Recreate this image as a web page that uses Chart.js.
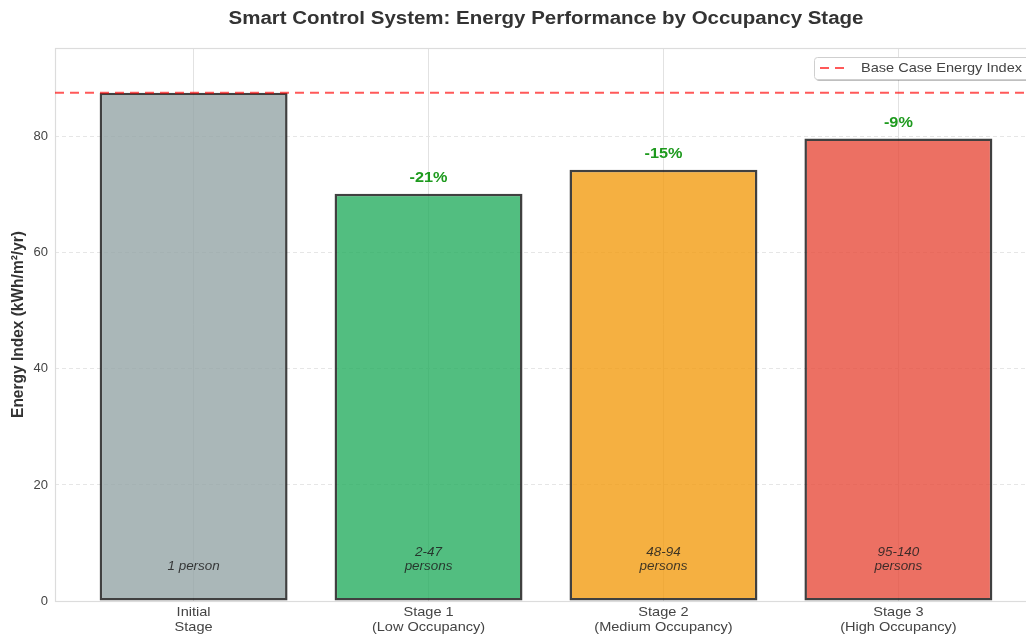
<!DOCTYPE html>
<html>
<head>
<meta charset="utf-8">
<title>Energy Performance by Occupancy Stage</title>
<script src="https://cdn.jsdelivr.net/npm/chart.js@4.4.0/dist/chart.umd.min.js"></script>
<style>
  html, body { margin: 0; padding: 0; background: #fff; overflow: hidden; }
  #wrap { width: 1026px; height: 635px; overflow: hidden; }
  canvas { display: block; }
</style>
</head>
<body>
<div id="wrap"><canvas id="energyChart" width="1040" height="635"></canvas></div>
<script>
// Chart data
const stages = [['Initial', 'Stage'], ['Stage 1', '(Low Occupancy)'], ['Stage 2', '(Medium Occupancy)'], ['Stage 3', '(High Occupancy)']];
const energyIndex = [87.6, 70.2, 74.3, 79.7];
const occupants = [['1 person'], ['2-47', 'persons'], ['48-94', 'persons'], ['95-140', 'persons']];
const savings = ['', '-21%', '-15%', '-9%'];
const baseCase = 87.6;
const yTicks = [0, 20, 40, 60, 80];

const fillColors = ['rgba(149,165,166,0.8)', 'rgba(39,174,96,0.8)', 'rgba(243,156,18,0.8)', 'rgba(231,76,60,0.8)'];
const FONT = '"Liberation Sans", Arial, sans-serif';
const SX = 1.12; // the reference text is a bit wider than it is tall

// text helper, stretched horizontally
function label(ctx, text, x, y, font, color, align, base) {
    ctx.save();
    ctx.font = font;
    ctx.fillStyle = color;
    ctx.textAlign = align || 'center';
    ctx.textBaseline = base || 'middle';
    ctx.translate(x, y);
    ctx.scale(SX, 1);
    ctx.fillText(text, 0, 0);
    ctx.restore();
}

function roundRect(ctx, x, y, w, h, r) {
    ctx.beginPath();
    ctx.moveTo(x + r, y);
    ctx.lineTo(x + w - r, y);
    ctx.quadraticCurveTo(x + w, y, x + w, y + r);
    ctx.lineTo(x + w, y + h - r);
    ctx.quadraticCurveTo(x + w, y + h, x + w - r, y + h);
    ctx.lineTo(x + r, y + h);
    ctx.quadraticCurveTo(x, y + h, x, y + h - r);
    ctx.lineTo(x, y + r);
    ctx.quadraticCurveTo(x, y, x + r, y);
    ctx.closePath();
}

// Extra drawing: frame, base line, annotations, legend, titles
const decorations = {
    id: 'decorations',
    beforeDatasetsDraw(chart) {
        const { ctx, chartArea: a } = chart;
        ctx.save();
        ctx.strokeStyle = '#dcdcdc';
        ctx.lineWidth = 1.2;
        ctx.strokeRect(a.left + 0.5, a.top + 0.5, a.right - a.left, a.bottom - a.top);
        ctx.restore();
    },
    afterDatasetsDraw(chart) {
        const { ctx, chartArea: a, scales } = chart;
        const x = scales.x, y = scales.y;
        ctx.save();

        // base case line
        const by = y.getPixelForValue(baseCase);
        ctx.strokeStyle = 'rgba(255,0,0,0.65)';
        ctx.lineWidth = 2;
        ctx.setLineDash([9, 6]);
        ctx.beginPath();
        ctx.moveTo(a.left, by);
        ctx.lineTo(a.right, by);
        ctx.stroke();
        ctx.setLineDash([]);
        ctx.restore();

        // savings labels above bars
        savings.forEach((s, i) => {
            if (!s) return;
            label(ctx, s, x.getPixelForValue(i), y.getPixelForValue(energyIndex[i]) - 16,
                'bold 14.5px ' + FONT, '#1e9a1e');
        });

        // occupancy text inside bars
        const base = y.getPixelForValue(5) + 1;
        occupants.forEach((lines, i) => {
            const cx = x.getPixelForValue(i);
            lines.forEach((t, j) => {
                label(ctx, t, cx, base - (lines.length - 1 - j) * 14,
                    'italic 12px ' + FONT, 'rgba(30,30,30,0.85)', 'center', 'bottom');
            });
        });

        // category labels under the axis
        stages.forEach((lines, i) => {
            const cx = x.getPixelForValue(i);
            lines.forEach((t, j) => {
                label(ctx, t, cx, a.bottom + 11 + j * 15, '13px ' + FONT, '#444');
            });
        });

        // legend
        const lx = 814, ly = 57, lw = 230, lh = 22;
        ctx.save();
        ctx.fillStyle = 'rgba(0,0,0,0.25)';
        roundRect(ctx, lx + 2, ly + 2, lw, lh, 3);
        ctx.fill();
        ctx.fillStyle = '#fff';
        ctx.strokeStyle = '#cfcfcf';
        ctx.lineWidth = 1;
        roundRect(ctx, lx + 0.5, ly + 0.5, lw, lh, 3);
        ctx.fill();
        ctx.stroke();
        ctx.strokeStyle = 'rgba(255,0,0,0.65)';
        ctx.lineWidth = 2;
        ctx.setLineDash([9, 6]);
        ctx.beginPath();
        ctx.moveTo(820, ly + 11);
        ctx.lineTo(850, ly + 11);
        ctx.stroke();
        ctx.restore();
        label(ctx, 'Base Case Energy Index', 861, ly + 11, '13px ' + FONT, '#444', 'left');

        // title
        label(ctx, 'Smart Control System: Energy Performance by Occupancy Stage',
            (a.left + a.right) / 2, 19, 'bold 18.3px ' + FONT, '#333');

        // y axis title
        ctx.save();
        ctx.translate(18, (a.top + a.bottom) / 2);
        ctx.rotate(-Math.PI / 2);
        ctx.scale(1, SX);
        ctx.fillStyle = '#333';
        ctx.font = 'bold 15.5px ' + FONT;
        ctx.textAlign = 'center';
        ctx.textBaseline = 'middle';
        ctx.fillText('Energy Index (kWh/m\u00b2/yr)', 0, 0);
        ctx.restore();
    }
};

new Chart(document.getElementById('energyChart'), {
    type: 'bar',
    data: {
        datasets: [{
            data: energyIndex.map((v, i) => ({ x: i, y: v })),
            backgroundColor: fillColors,
            borderColor: 'rgba(30,30,30,0.85)',
            borderWidth: 2.5,
            borderSkipped: false,
            categoryPercentage: 0.8,
            barPercentage: 1.0
        }]
    },
    options: {
        responsive: false,
        animation: false,
        layout: { padding: { top: 48, right: 3, left: 0, bottom: 0 } },
        plugins: {
            legend: { display: false },
            tooltip: { enabled: false }
        },
        scales: {
            x: {
                type: 'linear',
                offset: false,
                min: -0.59,
                max: 3.59,
                afterBuildTicks(scale) {
                    scale.ticks = stages.map((_, i) => ({ value: i }));
                },
                afterFit(scale) { scale.height = 34; },
                ticks: { display: false },
                grid: { color: '#e2e2e2', lineWidth: 1, drawTicks: false, offset: false },
                border: { display: false }
            },
            y: {
                min: 0,
                max: 95.3,
                afterBuildTicks(scale) {
                    scale.ticks = yTicks.map(v => ({ value: v }));
                },
                afterFit(scale) { scale.width = 55; },
                ticks: {
                    color: '#444',
                    font: { family: FONT, size: 13 },
                    padding: 7
                },
                grid: { color: '#e6e6e6', lineWidth: 1, drawTicks: false },
                border: { display: false, dash: [4, 3] }
            }
        }
    },
    plugins: [decorations]
});
</script>
</body>
</html>
